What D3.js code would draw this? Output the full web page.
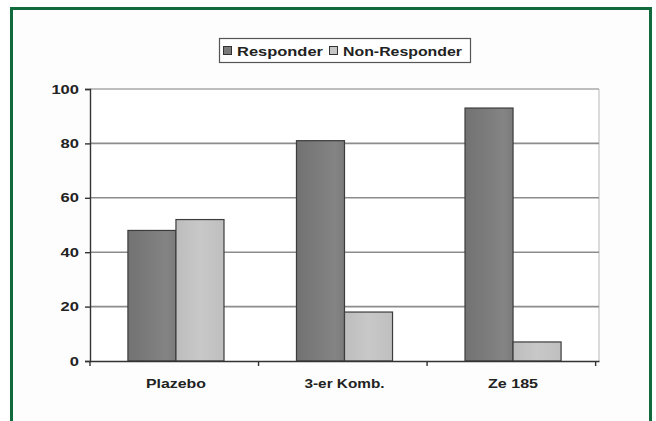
<!DOCTYPE html>
<html>
<head>
<meta charset="utf-8">
<script src="https://cdn.jsdelivr.net/npm/d3@7"></script>
<style>
  body { margin: 0; background: #ffffff; }
  svg { display: block; }
  text { font-family: "Liberation Sans", Arial, sans-serif; font-weight: bold; fill: #222; }
</style>
</head>
<body>
<div id="chart"></div>
<script>
// chart values
var categories = ["Plazebo", "3-er Komb.", "Ze 185"];
var seriesNames = ["Responder", "Non-Responder"];
var responder = [48, 81, 93];
var nonResponder = [52, 18, 7];
var yTicks = [0, 20, 40, 60, 80, 100];

var width = 656, height = 421;
// plot area edges (not "top": that name is taken by window.top)
var plotLeft = 90, plotRight = 599, plotTop = 89, plotBottom = 361;

var svg = d3.select("#chart").append("svg")
    .attr("width", width)
    .attr("height", height);

// gradients for the bar fills
var defs = svg.append("defs");
var g1 = defs.append("linearGradient").attr("id", "gResp").attr("x1", "0").attr("x2", "1").attr("y1", "0").attr("y2", "0");
g1.append("stop").attr("offset", "0").attr("stop-color", "#727272");
g1.append("stop").attr("offset", "0.55").attr("stop-color", "#7e7e7e");
g1.append("stop").attr("offset", "0.8").attr("stop-color", "#848484");
g1.append("stop").attr("offset", "1").attr("stop-color", "#7b7b7b");
var g2 = defs.append("linearGradient").attr("id", "gNon").attr("x1", "0").attr("x2", "1").attr("y1", "0").attr("y2", "0");
g2.append("stop").attr("offset", "0").attr("stop-color", "#bdbdbd");
g2.append("stop").attr("offset", "0.5").attr("stop-color", "#c8c8c8");
g2.append("stop").attr("offset", "1").attr("stop-color", "#bfbfbf");

//green frame
svg.append("rect")
    .attr("x", 11.5).attr("y", 8.5)
    .attr("width", 639).attr("height", 440)
    .attr("fill", "#fdfdfd")
    .attr("stroke", "#116a3b")
    .attr("stroke-width", 3);

//scales
var yScale = d3.scaleLinear().domain([0, 100]).range([plotBottom, plotTop]);
var xScale = d3.scaleBand().domain(categories).range([plotLeft, plotRight])
    .paddingInner(0.43).paddingOuter(0.225);
var xSub = d3.scaleBand().domain(seriesNames).range([0, xScale.bandwidth()]);

//plot area background + right border
svg.append("rect")
    .attr("x", plotLeft).attr("y", plotTop)
    .attr("width", plotRight - plotLeft).attr("height", plotBottom - plotTop)
    .attr("fill", "#ffffff");
svg.append("line")
    .attr("x1", plotRight).attr("x2", plotRight)
    .attr("y1", plotTop).attr("y2", plotBottom)
    .attr("stroke", "#c4c4c4").attr("stroke-width", 1.2);

//gridlines
svg.selectAll(".grid")
    .data(yTicks.filter(function(d){ return d > 0; }))
    .enter().append("line")
    .attr("x1", plotLeft).attr("x2", plotRight)
    .attr("y1", function(d){ return yScale(d); })
    .attr("y2", function(d){ return yScale(d); })
    .attr("stroke", function(d){ return d == 100 ? "#a8a8a8" : "#8c8c8c"; })
    .attr("stroke-width", 1.6);

//bars
var rows = categories.map(function(c, i){
    return [
        {cat: c, s: seriesNames[0], v: responder[i]},
        {cat: c, s: seriesNames[1], v: nonResponder[i]}
    ];
});

var groups = svg.selectAll(".grp")
    .data(rows)
    .enter().append("g")
    .attr("transform", function(d){ return "translate(" + xScale(d[0].cat) + ",0)"; });

groups.selectAll("rect")
    .data(function(d){ return d; })
    .enter().append("rect")
    .attr("x", function(d){ return xSub(d.s); })
    .attr("y", function(d){ return yScale(d.v); })
    .attr("width", xSub.bandwidth())
    .attr("height", function(d){ return plotBottom - yScale(d.v); })
    .attr("fill", function(d){ return d.s == "Responder" ? "url(#gResp)" : "url(#gNon)"; })
    .attr("stroke", "#3c3c3c")
    .attr("stroke-width", 1.2);

//Y axis
var yAxis = d3.axisLeft(yScale).tickValues(yTicks).tickSize(5).tickPadding(6);
var yG = svg.append("g")
    .attr("transform", "translate(" + plotLeft + ",0)")
    .call(yAxis);
yG.select(".domain").attr("stroke", "#333").attr("stroke-width", 1.4);
yG.selectAll(".tick line").attr("stroke", "#333").attr("stroke-width", 1.4);
yG.selectAll(".tick text")
    .style("font-size", "13px")
    .style("font-family", "'Liberation Sans', Arial, sans-serif")
    .style("font-weight", "bold")
    .attr("fill", "#222")
    .attr("textLength", function(d){ return String(d).length * 9.2; })
    .attr("lengthAdjust", "spacingAndGlyphs");

//X axis
var xAxis = d3.axisBottom(xScale).tickSize(0).tickPadding(18);
var xG = svg.append("g")
    .attr("transform", "translate(0," + plotBottom + ")")
    .call(xAxis);
xG.select(".domain").attr("stroke", "#333").attr("stroke-width", 1.4);
xG.selectAll(".tick text")
    .style("font-size", "13px")
    .style("font-family", "'Liberation Sans', Arial, sans-serif")
    .style("font-weight", "bold")
    .attr("fill", "#222")
    .attr("textLength", function(d){ return d == "Plazebo" ? 60 : (d == "Ze 185" ? 50 : 80); })
    .attr("lengthAdjust", "spacingAndGlyphs");

// category separator ticks
var step = xScale.step();
var seps = [0, 1, 2, 3].map(function(i){ return xScale(categories[0]) - xScale.paddingOuter() * step + i * step; });
svg.selectAll(".sep")
    .data(seps)
    .enter().append("line")
    .attr("x1", function(d){ return d; }).attr("x2", function(d){ return d; })
    .attr("y1", plotBottom).attr("y2", plotBottom + 5)
    .attr("stroke", "#333").attr("stroke-width", 1.4);

//legend
var legend = svg.append("g");
legend.append("rect")
    .attr("x", 219.5).attr("y", 38.5)
    .attr("width", 251).attr("height", 24)
    .attr("fill", "#ffffff")
    .attr("stroke", "#555").attr("stroke-width", 1.2);

var legendItems = [
    {name: seriesNames[0], x: 223, tx: 237, w: 86, fill: "#7a7a7a"},
    {name: seriesNames[1], x: 329, tx: 343, w: 119, fill: "#c6c6c6"}
];
legendItems.forEach(function(it){
    legend.append("rect")
        .attr("x", it.x + 0.5).attr("y", 46.5)
        .attr("width", 8).attr("height", 8)
        .attr("fill", it.fill)
        .attr("stroke", "#333").attr("stroke-width", 1);
    legend.append("text")
        .attr("x", it.tx).attr("y", 55.5)
        .style("font-size", "13px")
        .attr("textLength", it.w)
        .attr("lengthAdjust", "spacingAndGlyphs")
        .text(it.name);
});
</script>
</body>
</html>
